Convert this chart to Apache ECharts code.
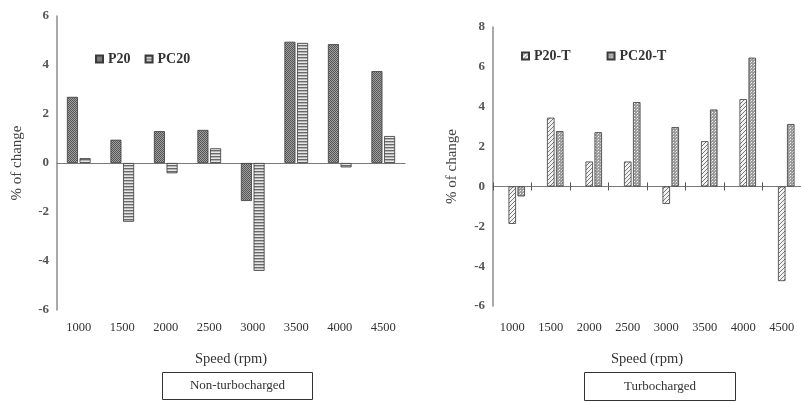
<!DOCTYPE html>
<html>
<head>
<meta charset="utf-8">
<script src="https://cdn.jsdelivr.net/npm/echarts@6/dist/echarts.min.js"></script>
<style>
  html, body { margin: 0; padding: 0; background: #fff; }
  #chart { width: 801px; height: 403px; }
</style>
</head>
<body>
<div id="chart"></div>
<script>
const speeds = ['1000', '1500', '2000', '2500', '3000', '3500', '4000', '4500']

// non-turbocharged
const p20 = [2.7, 0.95, 1.3, 1.35, -1.55, 4.95, 4.85, 3.75]
const pc20 = [0.2, -2.4, -0.42, 0.6, -4.4, 4.9, -0.18, 1.1]

// turbocharged
const p20t = [-1.88, 3.45, 1.25, 1.25, -0.88, 2.27, 4.38, -4.75]
const pc20t = [-0.5, 2.78, 2.72, 4.23, 2.98, 3.86, 6.46, 3.13]

const serif = '"Liberation Serif", "Times New Roman", serif'

// small tiles used as fill patterns
function tile(w, h, draw) {
  const c = document.createElement('canvas')
  c.width = w
  c.height = h
  draw(c.getContext('2d'))
  return { image: c, repeat: 'repeat' }
}

const fillP20 = tile(2, 2, ctx => {
  ctx.fillStyle = '#a0a0a0'; ctx.fillRect(0, 0, 2, 2)
  ctx.fillStyle = '#555'; ctx.fillRect(0, 0, 1, 1); ctx.fillRect(1, 1, 1, 1)
})
const fillPC20 = tile(1, 3, ctx => {
  ctx.fillStyle = '#e6e6e6'; ctx.fillRect(0, 0, 1, 3)
  ctx.fillStyle = '#6a6a6a'; ctx.fillRect(0, 0, 1, 1)
  ctx.fillStyle = '#b4b4b4'; ctx.fillRect(0, 1, 1, 1)
})
const fillP20T = tile(4, 4, ctx => {
  ctx.fillStyle = '#f2f2f2'; ctx.fillRect(0, 0, 4, 4)
  ctx.fillStyle = '#7a7a7a'
  for (let i = 0; i < 4; i++) ctx.fillRect(i, 3 - i, 1, 1)
})
const fillPC20T = tile(3, 3, ctx => {
  ctx.fillStyle = '#9c9c9c'; ctx.fillRect(0, 0, 3, 3)
  ctx.fillStyle = '#f4f4f4'; ctx.fillRect(1, 1, 1, 1)
  ctx.fillStyle = '#d0d0d0'; ctx.fillRect(0, 2, 1, 1)
})

function zeroAxis(gridIndex, ticks) {
  return {
    type: 'category', gridIndex: gridIndex, data: speeds,
    axisLine: { onZero: true, lineStyle: { color: '#7a7a7a', width: 1.2 } },
    axisTick: { show: ticks, length: 4, lineStyle: { color: '#555' } },
    axisLabel: { show: false }
  }
}

function labelAxis(gridIndex, margin, nameGap) {
  return {
    type: 'category', gridIndex: gridIndex, data: speeds, position: 'bottom',
    axisLine: { show: false, onZero: false },
    axisTick: { show: false },
    axisLabel: { margin: margin, color: '#333', fontFamily: serif, fontSize: 12.5 },
    name: 'Speed (rpm)', nameLocation: 'middle', nameGap: nameGap,
    nameTextStyle: { color: '#333', fontFamily: serif, fontSize: 14.5 }
  }
}

function valueAxis(gridIndex, min, max, nameGap) {
  return {
    type: 'value', gridIndex: gridIndex, min: min, max: max, interval: 2,
    axisLine: { show: true, lineStyle: { color: '#8c8c8c', width: 1.5 } },
    axisTick: { show: false },
    splitLine: { show: false },
    axisLabel: { margin: 8, color: '#555', fontFamily: serif, fontSize: 13, fontWeight: 'bold' },
    name: '% of change', nameLocation: 'middle', nameRotate: 90, nameGap: nameGap,
    nameTextStyle: { color: '#444', fontFamily: serif, fontSize: 15 }
  }
}

function barSeries(name, data, fill, axisIdx, width, gap) {
  return {
    name: name, type: 'bar', data: data,
    xAxisIndex: axisIdx, yAxisIndex: axisIdx < 2 ? 0 : 1,
    barWidth: width, barGap: gap,
    itemStyle: { color: fill, borderColor: '#3a3a3a', borderWidth: 0.8 },
    emphasis: { disabled: true }
  }
}

function box(x, y, w, h, text) {
  return {
    type: 'group', left: x, top: y,
    children: [
      { type: 'rect', shape: { x: 0, y: 0, width: w, height: h },
        style: { fill: '#fff', stroke: '#333', lineWidth: 1 } },
      { type: 'text', x: w / 2, y: h / 2,
        style: { text: text, fill: '#333', font: '13px ' + serif, align: 'center', verticalAlign: 'middle' } }
    ]
  }
}

const legendText = { color: '#333', fontFamily: serif, fontSize: 14, fontWeight: 'bold' }

const chart = echarts.init(document.getElementById('chart'), null, { renderer: 'canvas' })

// right grid: top 27, height 279, y from -6 to 8 -> zero sits 8/14 of the way down
const rightTop = 27
const rightHeight = 279
const zeroFromBottom = rightHeight * 6 / 14

// upper half of the crossing ticks on the turbocharged zero line
const upTicks = {
  type: 'category', gridIndex: 1, data: speeds, position: 'bottom',
  offset: -zeroFromBottom,
  axisLine: { show: false, onZero: false },
  axisTick: { show: true, inside: true, length: 4, lineStyle: { color: '#555' } },
  axisLabel: { show: false }
}

// the turbocharged bars sit right of the category centre in the original,
// an empty spacer series in front of them pushes the pair over
const spacer = {
  name: 'spacer', type: 'bar', data: speeds.map(() => '-'),
  xAxisIndex: 2, yAxisIndex: 1, barWidth: 7.5, barGap: '20%', silent: true
}

chart.setOption({
  backgroundColor: '#fff',
  animation: false,
  grid: [
    { left: 57, top: 16, width: 348, height: 294 },
    { left: 493, top: rightTop, width: 312, height: rightHeight }
  ],
  legend: [
    { data: ['P20', 'PC20'], left: 90, top: 47, itemWidth: 7, itemHeight: 7, itemGap: 14,
      textStyle: legendText, icon: 'rect', selectedMode: false },
    { data: ['P20-T', 'PC20-T'], left: 516, top: 44, itemWidth: 7, itemHeight: 7, itemGap: 36,
      textStyle: legendText, icon: 'rect', selectedMode: false }
  ],
  xAxis: [
    zeroAxis(0, false),
    labelAxis(0, 11, 42),
    zeroAxis(1, true),
    labelAxis(1, 15, 46),
    upTicks
  ],
  yAxis: [
    valueAxis(0, -6, 6, 32),
    valueAxis(1, -6, 8, 33)
  ],
  series: [
    barSeries('P20', p20, fillP20, 0, 11, '15%'),
    barSeries('PC20', pc20, fillPC20, 0, 11, '15%'),
    spacer,
    barSeries('P20-T', p20t, fillP20T, 2, 7.5, '20%'),
    barSeries('PC20-T', pc20t, fillPC20T, 2, 7.5, '20%')
  ],
  graphic: [
    box(162, 372, 150, 27, 'Non-turbocharged'),
    box(584, 372, 151, 28, 'Turbocharged')
  ]
})
</script>
</body>
</html>
